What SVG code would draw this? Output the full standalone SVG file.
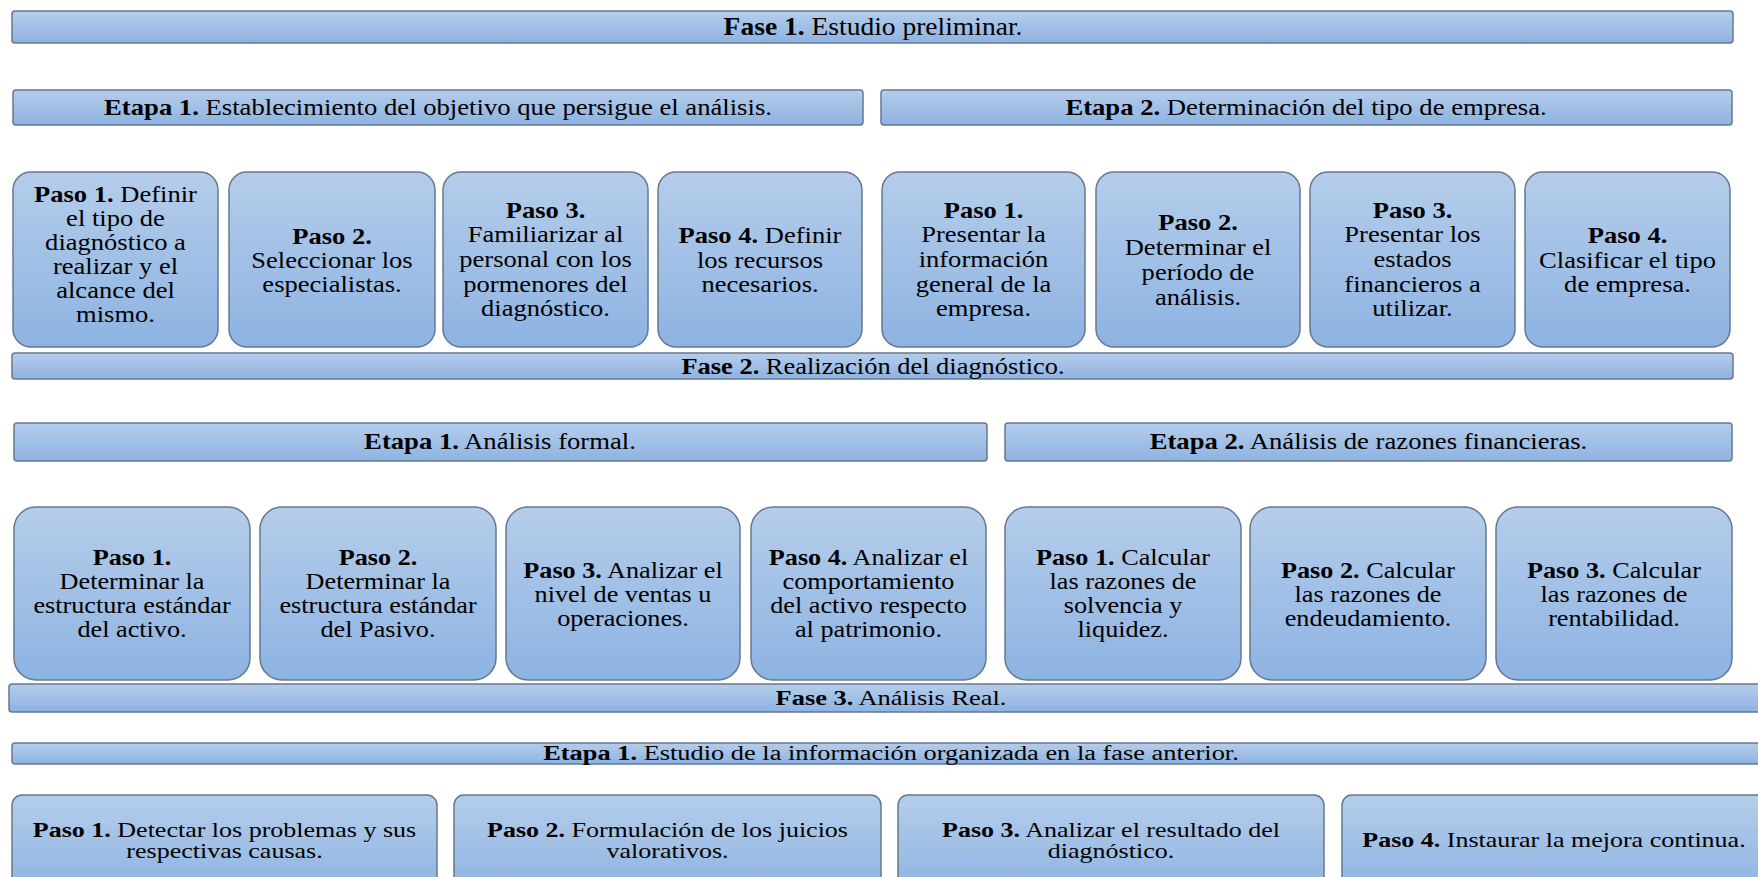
<svg xmlns="http://www.w3.org/2000/svg" width="1758" height="877" viewBox="0 0 1758 877">
<defs>
<linearGradient id="g" x1="0" y1="0" x2="0" y2="1">
<stop offset="0" stop-color="#b5cdea"/>
<stop offset="1" stop-color="#8db3e2"/>
</linearGradient>
<style>
.box{fill:url(#g);stroke:#66788f;stroke-width:1.5}
text{font-family:"Liberation Serif","Times New Roman",serif;fill:#000;text-anchor:middle}
.b{font-weight:bold}
.f1{font-size:25.5px}
.f2{font-size:23px}
.f3{font-size:22px}
.e{font-size:23px}
.e3{font-size:20px}
.p1{font-size:23.5px}
.p2{font-size:23px}
.p3{font-size:20px}
</style>
</defs>
<rect width="1758" height="877" fill="#fff"/>
<g id="connectors"></g>

<g id="fase1">
<rect class="box" x="12" y="11" width="1721" height="32" rx="3"/>
<text class="f1" transform="translate(873,0) scale(1.08,1)"><tspan x="0" y="35"><tspan class="b">Fase 1.</tspan> Estudio preliminar.</tspan></text>
</g>
<g id="f1-etapa1">
<rect class="box" x="13" y="90" width="850" height="35" rx="3"/>
<text class="e" transform="translate(438,0) scale(1.16,1)"><tspan x="0" y="115"><tspan class="b">Etapa 1.</tspan> Establecimiento del objetivo que persigue el análisis.</tspan></text>
</g>
<g id="f1-etapa2">
<rect class="box" x="881" y="90" width="851" height="35" rx="3"/>
<text class="e" transform="translate(1306,0) scale(1.16,1)"><tspan x="0" y="115"><tspan class="b">Etapa 2.</tspan> Determinación del tipo de empresa.</tspan></text>
</g>

<g id="f1-e1-p1">
<rect class="box" x="13" y="172" width="205" height="175" rx="18"/>
<text class="p1" transform="translate(115.5,0) scale(1.13,1)"><tspan x="0" y="202"><tspan class="b">Paso 1.</tspan> Definir</tspan><tspan x="0" y="226">el tipo de</tspan><tspan x="0" y="250">diagnóstico a</tspan><tspan x="0" y="274">realizar y el</tspan><tspan x="0" y="298">alcance del</tspan><tspan x="0" y="322">mismo.</tspan></text>
</g>
<g id="f1-e1-p2">
<rect class="box" x="229" y="172" width="206" height="175" rx="18"/>
<text class="p1" transform="translate(332,0) scale(1.13,1)"><tspan x="0" y="244" class="b">Paso 2.</tspan><tspan x="0" y="268">Seleccionar los</tspan><tspan x="0" y="292">especialistas.</tspan></text>
</g>
<g id="f1-e1-p3">
<rect class="box" x="443" y="172" width="205" height="175" rx="18"/>
<text class="p1" transform="translate(545.5,0) scale(1.13,1)"><tspan x="0" y="218" class="b">Paso 3.</tspan><tspan x="0" y="242">Familiarizar al</tspan><tspan x="0" y="267">personal con los</tspan><tspan x="0" y="292">pormenores del</tspan><tspan x="0" y="316">diagnóstico.</tspan></text>
</g>
<g id="f1-e1-p4">
<rect class="box" x="658" y="172" width="204" height="175" rx="18"/>
<text class="p1" transform="translate(760,0) scale(1.13,1)"><tspan x="0" y="243"><tspan class="b">Paso 4.</tspan> Definir</tspan><tspan x="0" y="268">los recursos</tspan><tspan x="0" y="292">necesarios.</tspan></text>
</g>
<g id="f1-e2-p1">
<rect class="box" x="882" y="172" width="203" height="175" rx="18"/>
<text class="p1" transform="translate(983.5,0) scale(1.13,1)"><tspan x="0" y="218" class="b">Paso 1.</tspan><tspan x="0" y="242">Presentar la</tspan><tspan x="0" y="267">información</tspan><tspan x="0" y="292">general de la</tspan><tspan x="0" y="316">empresa.</tspan></text>
</g>
<g id="f1-e2-p2">
<rect class="box" x="1096" y="172" width="204" height="175" rx="18"/>
<text class="p1" transform="translate(1198,0) scale(1.13,1)"><tspan x="0" y="230" class="b">Paso 2.</tspan><tspan x="0" y="255">Determinar el</tspan><tspan x="0" y="280">período de</tspan><tspan x="0" y="305">análisis.</tspan></text>
</g>
<g id="f1-e2-p3">
<rect class="box" x="1310" y="172" width="205" height="175" rx="18"/>
<text class="p1" transform="translate(1412.5,0) scale(1.13,1)"><tspan x="0" y="218" class="b">Paso 3.</tspan><tspan x="0" y="242">Presentar los</tspan><tspan x="0" y="267">estados</tspan><tspan x="0" y="292">financieros a</tspan><tspan x="0" y="316">utilizar.</tspan></text>
</g>
<g id="f1-e2-p4">
<rect class="box" x="1525" y="172" width="205" height="175" rx="18"/>
<text class="p1" transform="translate(1627.5,0) scale(1.13,1)"><tspan x="0" y="243" class="b">Paso 4.</tspan><tspan x="0" y="268">Clasificar el tipo</tspan><tspan x="0" y="292">de empresa.</tspan></text>
</g>

<g id="fase2">
<rect class="box" x="12" y="353" width="1721" height="26" rx="3"/>
<text class="f2" transform="translate(873,0) scale(1.15,1)"><tspan x="0" y="374"><tspan class="b">Fase 2.</tspan> Realización del diagnóstico.</tspan></text>
</g>
<g id="f2-etapa1">
<rect class="box" x="14" y="423" width="973" height="38" rx="3"/>
<text class="e" transform="translate(500,0) scale(1.16,1)"><tspan x="0" y="449"><tspan class="b">Etapa 1.</tspan> Análisis  formal.</tspan></text>
</g>
<g id="f2-etapa2">
<rect class="box" x="1005" y="423" width="727" height="38" rx="3"/>
<text class="e" transform="translate(1368.5,0) scale(1.16,1)"><tspan x="0" y="449"><tspan class="b">Etapa 2.</tspan> Análisis  de razones financieras.</tspan></text>
</g>

<g id="f2-e1-p1">
<rect class="box" x="14" y="507" width="236" height="173" rx="22"/>
<text class="p2" transform="translate(132,0) scale(1.14,1)"><tspan x="0" y="565" class="b">Paso 1.</tspan><tspan x="0" y="589">Determinar la</tspan><tspan x="0" y="613">estructura estándar</tspan><tspan x="0" y="637">del activo.</tspan></text>
</g>
<g id="f2-e1-p2">
<rect class="box" x="260" y="507" width="236" height="173" rx="22"/>
<text class="p2" transform="translate(378,0) scale(1.14,1)"><tspan x="0" y="565" class="b">Paso 2.</tspan><tspan x="0" y="589">Determinar la</tspan><tspan x="0" y="613">estructura estándar</tspan><tspan x="0" y="637">del Pasivo.</tspan></text>
</g>
<g id="f2-e1-p3">
<rect class="box" x="506" y="507" width="234" height="173" rx="22"/>
<text class="p2" transform="translate(623,0) scale(1.14,1)"><tspan x="0" y="578"><tspan class="b">Paso 3.</tspan> Analizar el</tspan><tspan x="0" y="602">nivel de ventas u</tspan><tspan x="0" y="626">operaciones.</tspan></text>
</g>
<g id="f2-e1-p4">
<rect class="box" x="751" y="507" width="235" height="173" rx="22"/>
<text class="p2" transform="translate(868.5,0) scale(1.14,1)"><tspan x="0" y="565"><tspan class="b">Paso 4.</tspan> Analizar el</tspan><tspan x="0" y="589">comportamiento</tspan><tspan x="0" y="613">del activo respecto</tspan><tspan x="0" y="637">al patrimonio.</tspan></text>
</g>
<g id="f2-e2-p1">
<rect class="box" x="1005" y="507" width="236" height="173" rx="22"/>
<text class="p2" transform="translate(1123,0) scale(1.14,1)"><tspan x="0" y="565"><tspan class="b">Paso 1.</tspan> Calcular</tspan><tspan x="0" y="589">las razones de</tspan><tspan x="0" y="613">solvencia y</tspan><tspan x="0" y="637">liquidez.</tspan></text>
</g>
<g id="f2-e2-p2">
<rect class="box" x="1250" y="507" width="236" height="173" rx="22"/>
<text class="p2" transform="translate(1368,0) scale(1.14,1)"><tspan x="0" y="578"><tspan class="b">Paso 2.</tspan> Calcular</tspan><tspan x="0" y="602">las razones de</tspan><tspan x="0" y="626">endeudamiento.</tspan></text>
</g>
<g id="f2-e2-p3">
<rect class="box" x="1496" y="507" width="236" height="173" rx="22"/>
<text class="p2" transform="translate(1614,0) scale(1.14,1)"><tspan x="0" y="578"><tspan class="b">Paso 3.</tspan> Calcular</tspan><tspan x="0" y="602">las razones de</tspan><tspan x="0" y="626">rentabilidad.</tspan></text>
</g>

<g id="fase3">
<rect class="box" x="9" y="684" width="1766" height="28" rx="3"/>
<text class="f3" transform="translate(891,0) scale(1.2,1)"><tspan x="0" y="705"><tspan class="b">Fase 3.</tspan> Análisis Real.</tspan></text>
</g>
<g id="f3-etapa1">
<rect class="box" x="12" y="743" width="1763" height="21" rx="3"/>
<text class="e3" transform="translate(891,0) scale(1.32,1)"><tspan x="0" y="760"><tspan class="b">Etapa 1.</tspan> Estudio de la información organizada en la fase anterior.</tspan></text>
</g>

<g id="f3-e1-p1">
<rect class="box" x="12" y="795" width="425" height="100" rx="10"/>
<text class="p3" transform="translate(224.5,0) scale(1.3,1)"><tspan x="0" y="837"><tspan class="b">Paso 1.</tspan> Detectar los problemas y sus</tspan><tspan x="0" y="858">respectivas causas.</tspan></text>
</g>
<g id="f3-e1-p2">
<rect class="box" x="454" y="795" width="427" height="100" rx="10"/>
<text class="p3" transform="translate(667.5,0) scale(1.3,1)"><tspan x="0" y="837"><tspan class="b">Paso 2.</tspan> Formulación de los juicios</tspan><tspan x="0" y="858">valorativos.</tspan></text>
</g>
<g id="f3-e1-p3">
<rect class="box" x="898" y="795" width="426" height="100" rx="10"/>
<text class="p3" transform="translate(1111,0) scale(1.3,1)"><tspan x="0" y="837"><tspan class="b">Paso 3.</tspan> Analizar el resultado del</tspan><tspan x="0" y="858">diagnóstico.</tspan></text>
</g>
<g id="f3-e1-p4">
<rect class="box" x="1342" y="795" width="430" height="100" rx="10"/>
<text class="p3" transform="translate(1554,0) scale(1.3,1)"><tspan x="0" y="847"><tspan class="b">Paso 4.</tspan> Instaurar la mejora continua.</tspan></text>
</g>
</svg>
